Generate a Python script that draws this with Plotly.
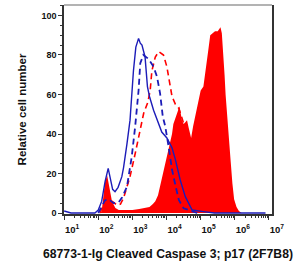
import plotly.graph_objects as go

# Data (x in log10 units of fluorescence)
red_fill_log = [1.0, 2.05, 2.1, 2.15, 2.2, 2.26, 2.32, 2.4, 2.5, 2.6, 2.8, 3.0, 3.2, 3.4, 3.5, 3.6, 3.67,
                3.75, 3.83, 3.9, 3.97, 4.04, 4.1, 4.16, 4.2, 4.26, 4.3, 4.38, 4.45, 4.5, 4.55, 4.6, 4.65,
                4.72, 4.78, 4.85, 4.92, 5.0, 5.08, 5.15, 5.22, 5.28, 5.35, 5.42, 5.5, 5.58, 5.62, 5.66,
                5.7, 5.73, 5.78, 5.83, 5.88, 5.93, 5.98, 6.05, 6.12, 6.2, 7.1]
red_fill_val = [0, 0, 1, 8, 16, 19, 14, 6, 2.5, 1.5, 1.5, 1.5, 2, 2.5, 3, 4.5, 6,
                9, 15, 21, 27, 31, 36, 40, 45, 48, 50, 54, 47, 45, 46, 47, 43,
                38, 44, 50, 57, 62, 64, 72, 82, 90, 91, 92, 92, 94, 91, 82,
                70, 60, 50, 38, 26, 15, 7, 3, 1, 0, 0]

blue_solid_log = [1.0, 1.1, 1.2, 1.9, 2.0, 2.1, 2.2, 2.29, 2.35, 2.42, 2.49, 2.58, 2.69, 2.74, 2.84, 2.93,
                  3.03, 3.1, 3.18, 3.23, 3.28, 3.33, 3.37, 3.44, 3.5, 3.62, 3.72, 3.86, 4.01, 4.11, 4.16,
                  4.26, 4.4, 4.55, 4.75, 5.08, 5.4, 6.9]
blue_solid_val = [1, 0.5, 0, 0, 1.5, 6, 16, 22.6, 18, 12, 10.8, 13, 18.4, 23, 35, 47,
                  72, 84, 88.4, 86, 85, 82, 79, 64, 59, 52, 47, 41, 38, 35, 33,
                  27, 16.7, 8.3, 1.5, 0.7, 0, 0]

blue_dash_log = [2.0, 2.1, 2.2, 2.3, 2.45, 2.6, 2.7, 2.84, 2.98, 3.08, 3.13, 3.18, 3.23, 3.32, 3.47,
                 3.62, 3.72, 3.81, 3.89, 3.96, 4.06, 4.16, 4.26, 4.36, 4.5, 4.7, 4.9]
blue_dash_val = [0, 3, 6.5, 7, 5, 5.5, 8, 13.3, 28.5, 43.7, 52, 62, 75.8, 80, 78,
                 74, 69, 60.6, 48.8, 44, 33.6, 22, 14, 6.6, 2.4, 1, 0]

red_dash_log = [2.05, 2.15, 2.25, 2.4, 2.55, 2.65, 2.74, 2.93, 3.08, 3.23, 3.33, 3.45, 3.52, 3.57,
                3.67, 3.77, 3.91, 4.01, 4.11, 4.16, 4.26, 4.36, 4.6, 4.9, 5.1]
red_dash_val = [0, 4, 7, 6, 4, 4.5, 7.6, 18.4, 30, 42, 50.5, 56, 62, 72,
                79, 81.7, 80, 74, 64, 59, 55, 53, 40, 15, 0]

x_tick_exps = [1, 2, 3, 4, 5, 6, 7]
y_tick_vals = [0, 20, 40, 60, 80, 100]

BLUE = "#1c1cb8"
RED = "#ff0000"
FONT = "Liberation Sans, Arial, sans-serif"

fig = go.Figure()
fig.add_trace(go.Scatter(x=[10 ** v for v in red_fill_log], y=red_fill_val, mode="lines",
                         line=dict(width=0, color=RED), fill="tozeroy", fillcolor=RED,
                         hoverinfo="skip"))
fig.add_trace(go.Scatter(x=[10 ** v for v in red_dash_log], y=red_dash_val, mode="lines",
                         line=dict(width=1.6, color=RED, dash="6px,4px")))
fig.add_trace(go.Scatter(x=[10 ** v for v in blue_dash_log], y=blue_dash_val, mode="lines",
                         line=dict(width=1.8, color=BLUE, dash="6px,4px")))
fig.add_trace(go.Scatter(x=[10 ** v for v in blue_solid_log], y=blue_solid_val, mode="lines",
                         line=dict(width=1.4, color=BLUE)))

fig.add_shape(type="line", xref="paper", yref="paper", x0=0, x1=1, y0=1, y1=1,
              line=dict(color="#9a9a9a", width=1.5))

fig.update_layout(
    width=307, height=261,
    margin=dict(l=64, r=35, t=5, b=47, autoexpand=False),
    paper_bgcolor="white", plot_bgcolor="white",
    showlegend=False,
    font=dict(family=FONT, color="#111111"),
)
fig.update_xaxes(
    type="log", range=[0.995, 7.09], automargin=False,
    tickvals=[10 ** e for e in x_tick_exps],
    ticktext=["10<sup>%d</sup>" % e for e in x_tick_exps],
    tickfont=dict(size=9.5, family=FONT, weight="bold"),
    ticks="outside", ticklen=4, tickcolor="#333333", tickwidth=1,
    ticklabelshift=8, ticklabelstandoff=2,
    minor=dict(ticks="outside", ticklen=2, tickcolor="#333333", dtick="D1", showgrid=False),
    showline=True, linecolor="#333333", linewidth=1.5, mirror=False,
    showgrid=False, zeroline=False,
    title=dict(text="68773-1-Ig Cleaved Caspase 3; p17 (2F7B8)",
               font=dict(size=12.2, family=FONT, weight="bold"),
               standoff=15),
)
fig.update_yaxes(
    range=[-0.5, 105.3], automargin=False,
    tickvals=y_tick_vals,
    tickfont=dict(size=9, family=FONT, weight="bold"),
    ticks="outside", ticklen=4, tickcolor="#333333", tickwidth=1,
    minor=dict(ticks="outside", ticklen=2, tickcolor="#333333", dtick=5, showgrid=False),
    showline=True, linecolor="#333333", linewidth=1.5, mirror=True,
    showgrid=False, zeroline=False,
    title=dict(text="Relative cell number",
               font=dict(size=11.5, family=FONT, weight="bold"),
               standoff=12),
)

fig.write_html("out.html", config={"displayModeBar": False},
               post_script="document.body.style.margin='0';document.body.style.padding='0';")
